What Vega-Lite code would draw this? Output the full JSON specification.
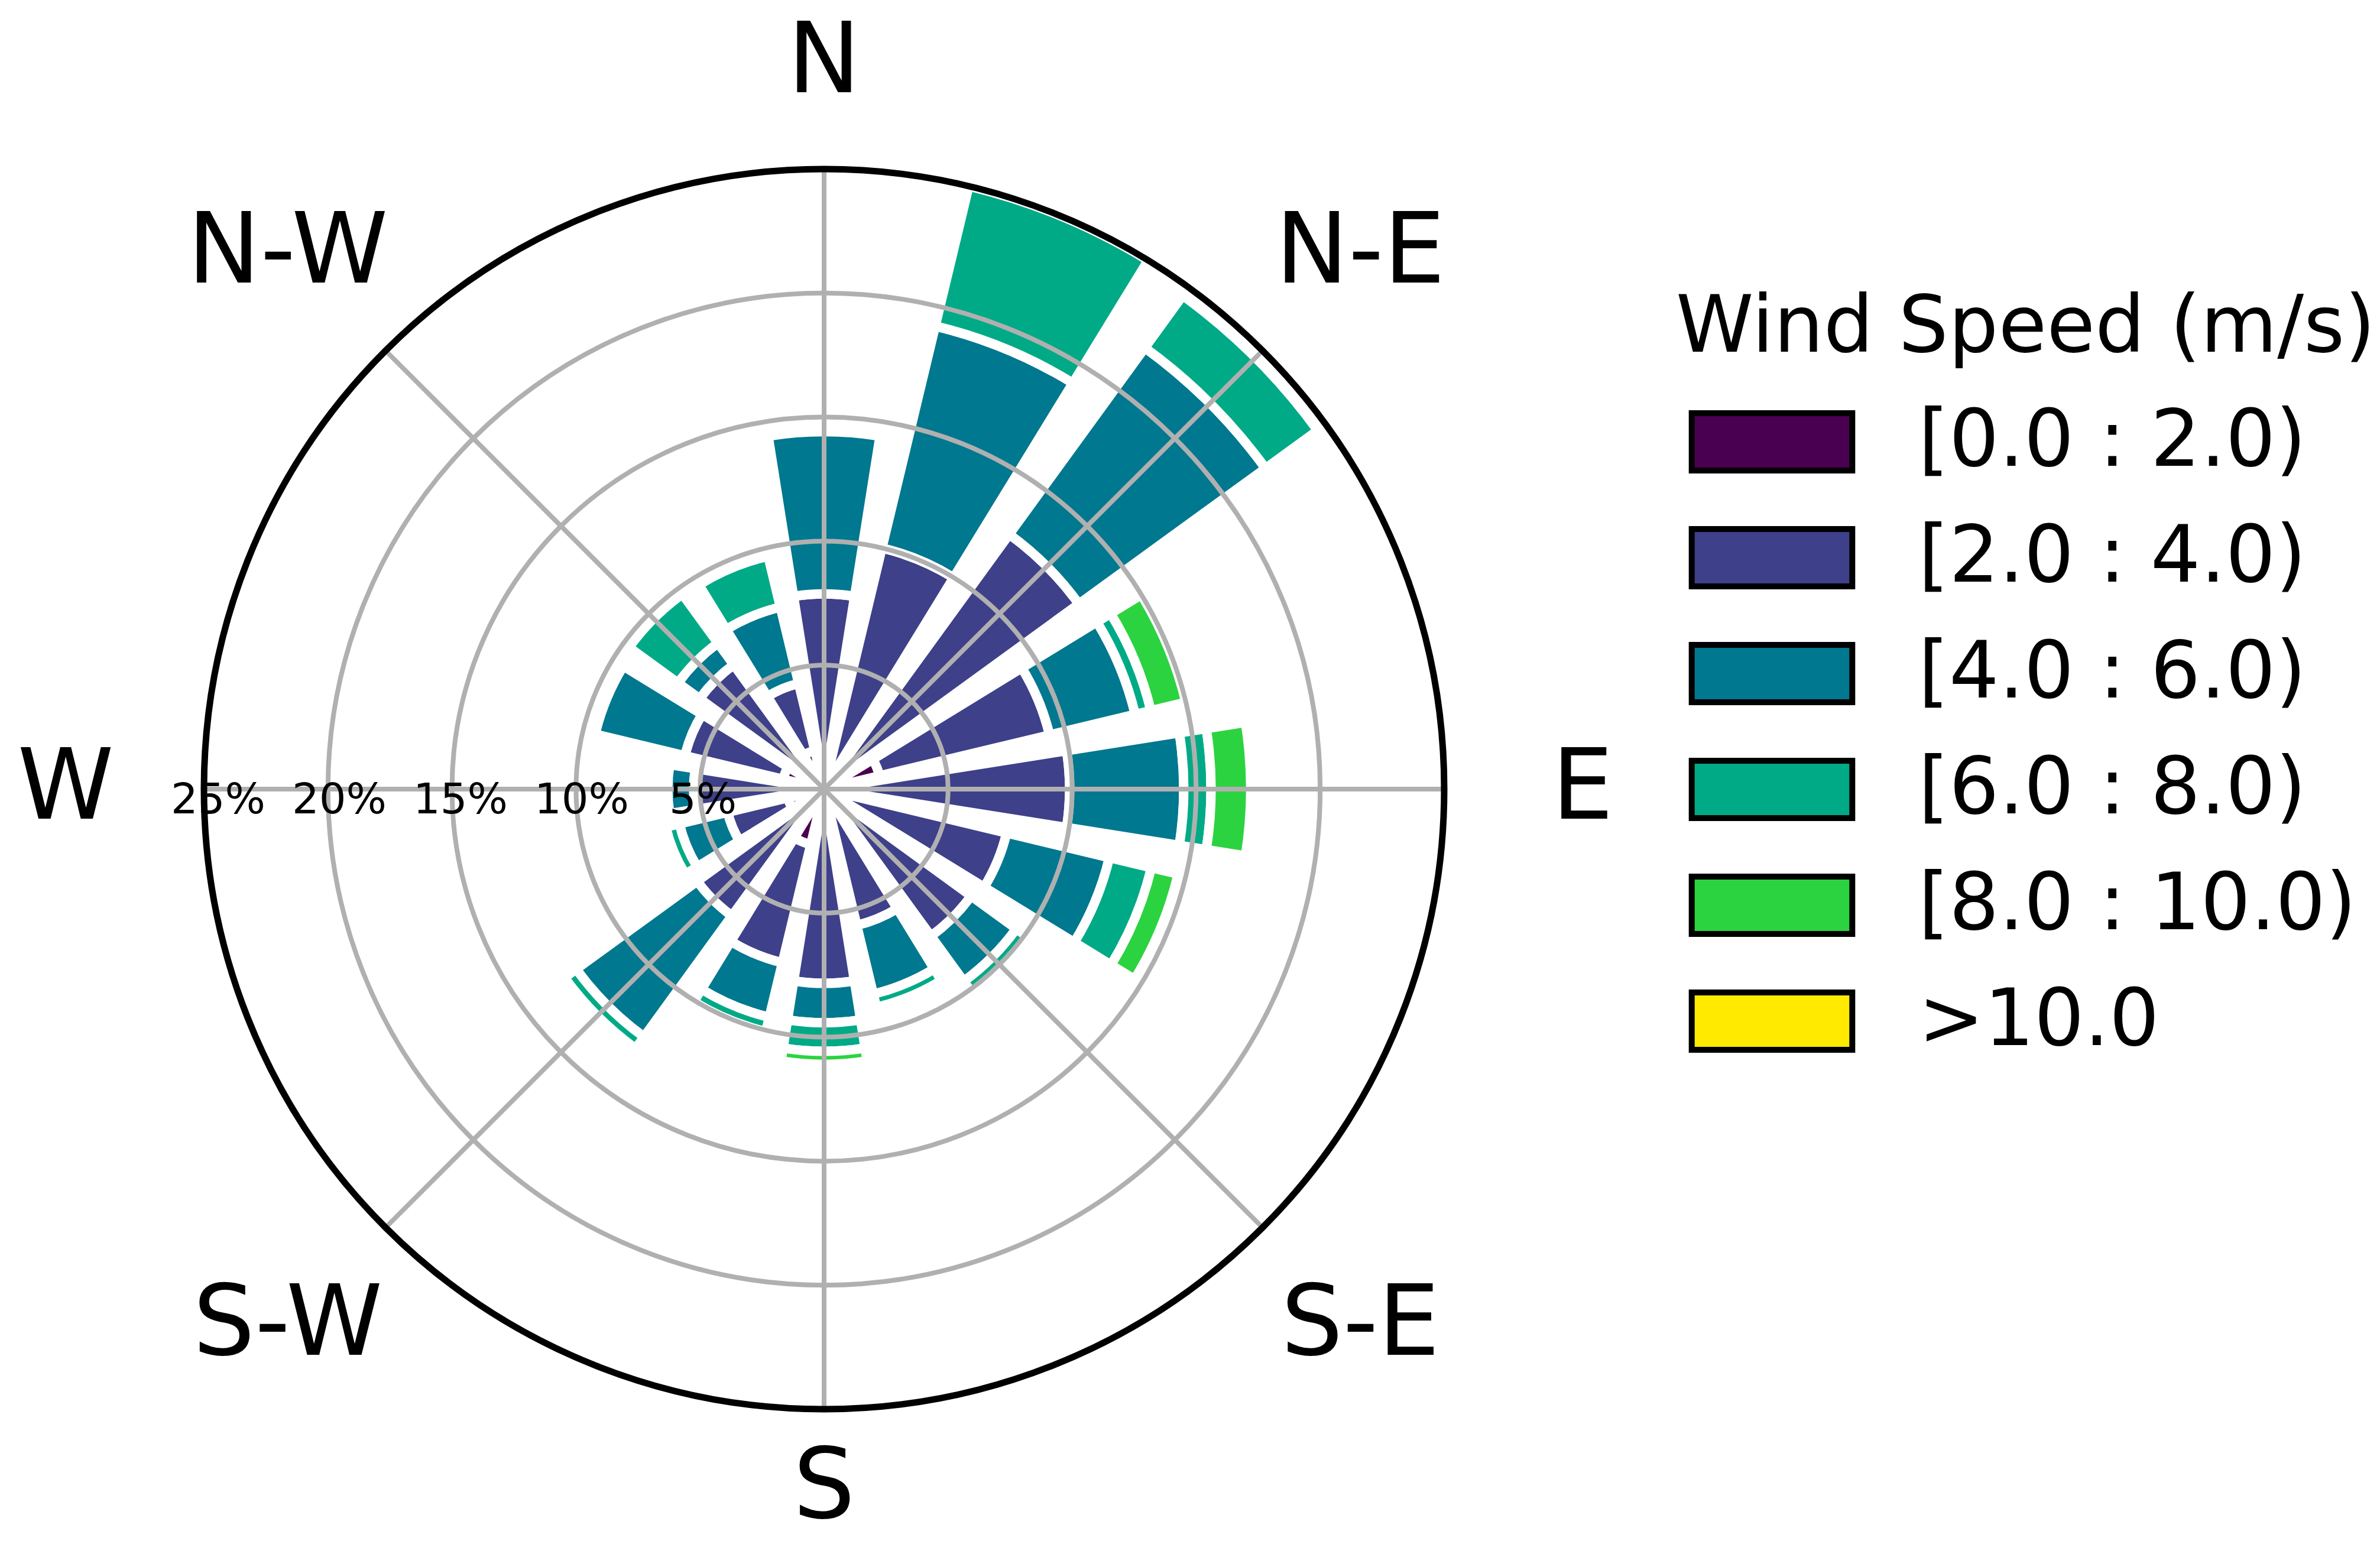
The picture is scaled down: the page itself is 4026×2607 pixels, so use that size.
{
  "$schema": "https://vega.github.io/schema/vega-lite/v6.json",
  "width": 2098,
  "height": 2098,
  "padding": {"left": 345, "top": 286, "right": 1583, "bottom": 223},
  "autosize": {"type": "none"},
  "background": "white",
  "config": {"view": {"stroke": null}, "font": "DejaVu Sans"},
  "datasets": {
    "wind": [
      {"dir": "N", "bin": "[0.0 : 2.0)", "freq": 0.4},
      {"dir": "N", "bin": "[2.0 : 4.0)", "freq": 7.47},
      {"dir": "N", "bin": "[4.0 : 6.0)", "freq": 6.54},
      {"dir": "NNE", "bin": "[0.0 : 2.0)", "freq": 0.4},
      {"dir": "NNE", "bin": "[2.0 : 4.0)", "freq": 9.6},
      {"dir": "NNE", "bin": "[4.0 : 6.0)", "freq": 9.2},
      {"dir": "NNE", "bin": "[6.0 : 8.0)", "freq": 5.8},
      {"dir": "NE", "bin": "[0.0 : 2.0)", "freq": 0.4},
      {"dir": "NE", "bin": "[2.0 : 4.0)", "freq": 12.3},
      {"dir": "NE", "bin": "[4.0 : 6.0)", "freq": 9.3},
      {"dir": "NE", "bin": "[6.0 : 8.0)", "freq": 2.6},
      {"dir": "ENE", "bin": "[0.0 : 2.0)", "freq": 2.3},
      {"dir": "ENE", "bin": "[2.0 : 4.0)", "freq": 7.05},
      {"dir": "ENE", "bin": "[4.0 : 6.0)", "freq": 3.55},
      {"dir": "ENE", "bin": "[6.0 : 8.0)", "freq": 0.65},
      {"dir": "ENE", "bin": "[8.0 : 10.0)", "freq": 1.45},
      {"dir": "E", "bin": "[0.0 : 2.0)", "freq": 0.4},
      {"dir": "E", "bin": "[2.0 : 4.0)", "freq": 9.5},
      {"dir": "E", "bin": "[4.0 : 6.0)", "freq": 4.6},
      {"dir": "E", "bin": "[6.0 : 8.0)", "freq": 1.1},
      {"dir": "E", "bin": "[8.0 : 10.0)", "freq": 1.6},
      {"dir": "ESE", "bin": "[0.0 : 2.0)", "freq": 0.4},
      {"dir": "ESE", "bin": "[2.0 : 4.0)", "freq": 7.17},
      {"dir": "ESE", "bin": "[4.0 : 6.0)", "freq": 4.26},
      {"dir": "ESE", "bin": "[6.0 : 8.0)", "freq": 1.74},
      {"dir": "ESE", "bin": "[8.0 : 10.0)", "freq": 1.11},
      {"dir": "SE", "bin": "[0.0 : 2.0)", "freq": 0.4},
      {"dir": "SE", "bin": "[2.0 : 4.0)", "freq": 6.93},
      {"dir": "SE", "bin": "[4.0 : 6.0)", "freq": 2.25},
      {"dir": "SE", "bin": "[6.0 : 8.0)", "freq": 0.54},
      {"dir": "SSE", "bin": "[0.0 : 2.0)", "freq": 0.4},
      {"dir": "SSE", "bin": "[2.0 : 4.0)", "freq": 5.25},
      {"dir": "SSE", "bin": "[4.0 : 6.0)", "freq": 2.85},
      {"dir": "SSE", "bin": "[6.0 : 8.0)", "freq": 0.55},
      {"dir": "S", "bin": "[0.0 : 2.0)", "freq": 0.4},
      {"dir": "S", "bin": "[2.0 : 4.0)", "freq": 7.43},
      {"dir": "S", "bin": "[4.0 : 6.0)", "freq": 1.59},
      {"dir": "S", "bin": "[6.0 : 8.0)", "freq": 1.15},
      {"dir": "S", "bin": "[8.0 : 10.0)", "freq": 0.53},
      {"dir": "SSW", "bin": "[0.0 : 2.0)", "freq": 2.3},
      {"dir": "SSW", "bin": "[2.0 : 4.0)", "freq": 4.9},
      {"dir": "SSW", "bin": "[4.0 : 6.0)", "freq": 2.26},
      {"dir": "SSW", "bin": "[6.0 : 8.0)", "freq": 0.59},
      {"dir": "SW", "bin": "[0.0 : 2.0)", "freq": 0.4},
      {"dir": "SW", "bin": "[2.0 : 4.0)", "freq": 5.92},
      {"dir": "SW", "bin": "[4.0 : 6.0)", "freq": 6.03},
      {"dir": "SW", "bin": "[6.0 : 8.0)", "freq": 0.58},
      {"dir": "WSW", "bin": "[0.0 : 2.0)", "freq": 1.5},
      {"dir": "WSW", "bin": "[2.0 : 4.0)", "freq": 2.5},
      {"dir": "WSW", "bin": "[4.0 : 6.0)", "freq": 2.0},
      {"dir": "WSW", "bin": "[6.0 : 8.0)", "freq": 0.56},
      {"dir": "W", "bin": "[0.0 : 2.0)", "freq": 0.4},
      {"dir": "W", "bin": "[2.0 : 4.0)", "freq": 4.86},
      {"dir": "W", "bin": "[4.0 : 6.0)", "freq": 1.04},
      {"dir": "WNW", "bin": "[0.0 : 2.0)", "freq": 1.7},
      {"dir": "WNW", "bin": "[2.0 : 4.0)", "freq": 4.07},
      {"dir": "WNW", "bin": "[4.0 : 6.0)", "freq": 3.72},
      {"dir": "NW", "bin": "[0.0 : 2.0)", "freq": 0.4},
      {"dir": "NW", "bin": "[2.0 : 4.0)", "freq": 5.8},
      {"dir": "NW", "bin": "[4.0 : 6.0)", "freq": 1.08},
      {"dir": "NW", "bin": "[6.0 : 8.0)", "freq": 2.44},
      {"dir": "NNW", "bin": "[0.0 : 2.0)", "freq": 1.6},
      {"dir": "NNW", "bin": "[2.0 : 4.0)", "freq": 2.78},
      {"dir": "NNW", "bin": "[4.0 : 6.0)", "freq": 3.17},
      {"dir": "NNW", "bin": "[6.0 : 8.0)", "freq": 2.11}
    ],
    "rings": [{"pct": 5}, {"pct": 10}, {"pct": 15}, {"pct": 20}],
    "outer": [{"pct": 25}],
    "spokes": [
      {"angle": 0, "pct": 25}, {"angle": 45, "pct": 25}, {"angle": 90, "pct": 25}, {"angle": 135, "pct": 25},
      {"angle": 180, "pct": 25}, {"angle": 225, "pct": 25}, {"angle": 270, "pct": 25}, {"angle": 315, "pct": 25}
    ],
    "dirs": [
      {"label": "N", "angle": 0}, {"label": "N-E", "angle": 45}, {"label": "E", "angle": 90}, {"label": "S-E", "angle": 135},
      {"label": "S", "angle": 180}, {"label": "S-W", "angle": 225}, {"label": "W", "angle": 270}, {"label": "N-W", "angle": 315}
    ],
    "ticks": [
      {"pct": 5, "text": "5%"}, {"pct": 10, "text": "10%"}, {"pct": 15, "text": "15%"}, {"pct": 20, "text": "20%"}, {"pct": 25, "text": "25%"}
    ]
  },
  "layer": [
    {
      "data": {"name": "wind"},
      "transform": [
        {"stack": "freq", "groupby": ["dir"], "sort": [{"field": "bin", "order": "ascending"}], "as": ["r0", "r1"]}
      ],
      "mark": {"type": "arc", "stroke": "white", "strokeWidth": 16},
      "encoding": {
        "theta": {
          "field": "dir", "type": "nominal",
          "scale": {"type": "band", "domain": ["N","NNE","NE","ENE","E","ESE","SE","SSE","S","SSW","SW","WSW","W","WNW","NW","NNW"], "range": [-0.19635, 6.08684], "paddingInner": 0.2, "paddingOuter": 0.1}
        },
        "radius": {"field": "r1", "type": "quantitative", "stack": null, "scale": {"type": "linear", "domain": [0, 25], "range": [0, 1049], "zero": true}},
        "radius2": {"field": "r0"},
        "color": {
          "field": "bin", "type": "nominal",
          "scale": {
            "domain": ["[0.0 : 2.0)", "[2.0 : 4.0)", "[4.0 : 6.0)", "[6.0 : 8.0)", "[8.0 : 10.0)", ">10.0"],
            "range": ["#4a0050", "#3e408a", "#00788f", "#00aa86", "#2cd340", "#ffea00"]
          },
          "legend": {
            "title": "Wind Speed (m/s)",
            "orient": "none", "legendX": 2490, "legendY": 204,
            "padding": 0,
            "titleFont": "DejaVu Sans", "titleFontSize": 133, "titleFontWeight": "normal", "titleColor": "black", "titlePadding": 58, "titleLimit": 3000,
            "labelFont": "DejaVu Sans", "labelFontSize": 133, "labelColor": "black", "labelLimit": 3000, "labelOffset": 181,
            "symbolType": "M-2.8,-1L2.8,-1L2.8,1L-2.8,1Z", "symbolSize": 9409, "symbolStrokeWidth": 10, "symbolStrokeColor": "black", "symbolOffset": 96, "symbolOpacity": 1,
            "rowPadding": 59,
            "encode": {"symbols": {"update": {"stroke": {"value": "black"}, "strokeWidth": {"value": 10}}}}
          }
        }
      }
    },
    {
      "data": {"name": "rings"},
      "mark": {"type": "arc", "filled": false, "stroke": "#b0b0b0", "strokeWidth": 8},
      "encoding": {
        "theta": {"value": 0},
        "theta2": {"value": 6.2832},
        "radius": {"field": "pct", "type": "quantitative", "stack": null, "scale": {"type": "linear", "domain": [0, 25], "range": [0, 1049], "zero": true}}
      }
    },
    {
      "data": {"name": "spokes"},
      "mark": {"type": "arc", "filled": false, "stroke": "#b0b0b0", "strokeWidth": 8},
      "encoding": {
        "theta": {"field": "angle", "type": "quantitative", "stack": null, "scale": {"type": "linear", "domain": [0, 360], "range": [0, 6.283185307]}},
        "theta2": {"field": "angle"},
        "radius": {"field": "pct", "type": "quantitative", "stack": null, "scale": {"type": "linear", "domain": [0, 25], "range": [0, 1049], "zero": true}}
      }
    },
    {
      "data": {"name": "outer"},
      "mark": {"type": "arc", "filled": false, "stroke": "black", "strokeWidth": 11},
      "encoding": {
        "theta": {"value": 0},
        "theta2": {"value": 6.2832},
        "radius": {"field": "pct", "type": "quantitative", "stack": null, "scale": {"type": "linear", "domain": [0, 25], "range": [0, 1049], "zero": true}}
      }
    },
    {
      "data": {"name": "dirs"},
      "transform": [{"filter": "datum.label == 'N'"}],
      "mark": {"type": "text", "font": "DejaVu Sans", "fontSize": 165, "align": "center", "baseline": "middle", "color": "black"},
      "encoding": {
        "theta": {"field": "angle", "type": "quantitative", "stack": null, "scale": {"type": "linear", "domain": [0, 360], "range": [0, 6.283185307]}},
        "radius": {"value": 1229},
        "text": {"field": "label"}
      }
    },
    {
      "data": {"name": "dirs"},
      "transform": [{"filter": "datum.label == 'S'"}],
      "mark": {"type": "text", "font": "DejaVu Sans", "fontSize": 165, "align": "center", "baseline": "middle", "color": "black"},
      "encoding": {
        "theta": {"field": "angle", "type": "quantitative", "stack": null, "scale": {"type": "linear", "domain": [0, 360], "range": [0, 6.283185307]}},
        "radius": {"value": 1183},
        "text": {"field": "label"}
      }
    },
    {
      "data": {"name": "dirs"},
      "transform": [{"filter": "datum.label != 'N' && datum.label != 'S'"}],
      "mark": {"type": "text", "font": "DejaVu Sans", "fontSize": 165, "align": "center", "baseline": "middle", "color": "black"},
      "encoding": {
        "theta": {"field": "angle", "type": "quantitative", "stack": null, "scale": {"type": "linear", "domain": [0, 360], "range": [0, 6.283185307]}},
        "radius": {"value": 1283},
        "text": {"field": "label"}
      }
    },
    {
      "data": {"name": "ticks"},
      "mark": {"type": "text", "font": "DejaVu Sans", "fontSize": 72, "align": "center", "baseline": "middle", "color": "black", "dy": 19},
      "encoding": {
        "theta": {"value": 4.712389},
        "radius": {"field": "pct", "type": "quantitative", "stack": null, "scale": {"type": "linear", "domain": [0, 25], "range": [0, 1025], "zero": true}},
        "text": {"field": "text"}
      }
    }
  ],
  "resolve": {"scale": {"theta": "independent", "radius": "independent"}}
}
